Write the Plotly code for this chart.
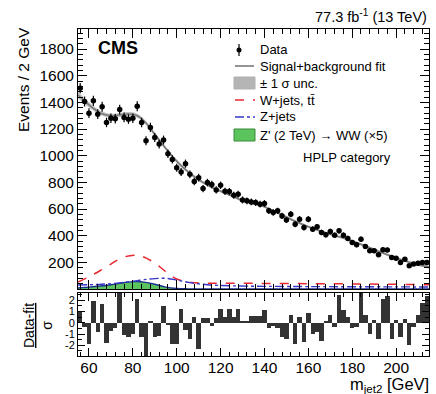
import plotly.graph_objects as go

# --- data: 2 GeV bins of the jet-2 mass ---
bin_centers = [56 + 2 * i for i in range(80)]
events = [1506, 1406, 1319, 1411, 1311, 1367, 1249, 1281, 1277, 1346,
          1287, 1274, 1281, 1371, 1249, 1112, 1212, 1137, 1087, 1117,
          1015, 972, 910, 877, 940, 860, 806, 835, 753, 798,
          783, 743, 778, 733, 731, 703, 711, 668, 661, 653,
          648, 636, 641, 586, 574, 586, 548, 518, 561, 486,
          524, 461, 524, 449, 466, 424, 406, 431, 404, 436,
          404, 379, 349, 331, 374, 319, 286, 286, 257, 294,
          292, 236, 230, 199, 224, 174, 187, 194, 199, 199]
pulls = [1.0, -0.4, -1.9, 1.9, -0.8, 1.7, -1.8, -0.7, -0.5, 2.7,
         -1.1, -1.3, -1.0, 2.1, -1.3, -3.0, 0.1, -1.3, -1.2, 1.5,
         -0.2, -1.9, -1.9, 1.2, -0.6, -1.4, 0.5, -2.3, 0.4, 0.4,
         -0.3, 0.4, 1.2, 0.5, 1.2, 0.5, 1.2, 0.2, 0.2, 0.6,
         0.6, 0.6, 1.1, -0.5, -0.3, -0.5, -1.3, -1.4, 0.7, -1.9,
         0.5, -1.7, 0.85, -1.0, -0.8, -1.6, 0.1, 0.7, -0.35, 2.5,
         1.15, 0.55, -0.5, -0.35, 2.7, 0.7, -1.0, 0.25, -1.4, 2.1,
         2.4, -1.4, 0.25, -1.3, 0.3, -2.0, -0.35, 0.7, 1.8, 2.4]

# signal+background fit and its +-1 sigma band
fit_mass = [55, 58, 62, 66, 70, 74, 78, 82, 86, 90, 94, 98, 102, 106, 110,
            114, 118, 122, 126, 130, 134, 138, 142, 146, 150, 154, 158, 162,
            166, 170, 174, 178, 182, 186, 190, 194, 198, 202, 206, 210, 215]
fit_events = [1455, 1410, 1355, 1315, 1300, 1305, 1312, 1300, 1245, 1160, 1075,
              995, 925, 868, 820, 780, 748, 720, 692, 662, 646, 630, 602, 572,
              540, 508, 480, 455, 432, 410, 392, 372, 348, 322, 296, 270, 245,
              222, 200, 183, 165]
fit_unc = [26, 22, 18, 16, 15, 15, 15, 15, 15, 14, 13, 12, 12, 11, 11,
           10, 10, 10, 10, 10, 10, 10, 9, 9, 9, 9, 9, 9,
           9, 9, 9, 9, 9, 9, 9, 9, 9, 9, 10, 11, 13]

# background components and signal template
bkg_mass = [55, 60, 65, 70, 75, 80, 82, 85, 90, 95, 100, 106, 114, 125, 140,
            160, 180, 200, 215]
wjets_tt = [52, 92, 137, 187, 235, 252, 254, 240, 195, 130, 75, 50, 44, 43, 42,
            40, 38, 35, 32]
zjets = [30, 32, 35, 40, 48, 58, 62, 70, 78, 80, 68, 48, 32, 24, 20,
         18, 17, 16, 15]
sig_mass = [55, 60, 65, 70, 75, 80, 82, 85, 90, 95, 100, 105, 110, 130, 215]
zprime = [8, 14, 22, 32, 45, 55, 56, 52, 36, 14, 4, 1, 0, 0, 0]

x_ticks = [60, 80, 100, 120, 140, 160, 180, 200]
y_ticks = [200, 400, 600, 800, 1000, 1200, 1400, 1600, 1800]
pull_ticks = [-2, -1, 0, 1, 2]
pull_labels = ["-2", "-1", "0", "1", "2"]

FONT = "Liberation Sans, Arial, Helvetica, sans-serif"
W, H = 436, 394
L, R, T, B = 78, 429, 29, 356   # plot area in pixels


def px(xp):
    return (xp - L) / (R - L)


def py(yp):
    return (B - yp) / (B - T)


fig = go.Figure()

upper = [f + u for f, u in zip(fit_events, fit_unc)]
lower = [f - u for f, u in zip(fit_events, fit_unc)]
fig.add_trace(go.Scatter(x=fit_mass, y=lower, mode="lines", line=dict(width=0, shape="spline"),
                         hoverinfo="skip", showlegend=False, xaxis="x", yaxis="y"))
fig.add_trace(go.Scatter(x=fit_mass, y=upper, mode="lines", line=dict(width=0, shape="spline"),
                         fill="tonexty", fillcolor="rgba(150,150,150,0.55)",
                         hoverinfo="skip", showlegend=False, xaxis="x", yaxis="y"))
fig.add_trace(go.Scatter(x=fit_mass, y=fit_events, mode="lines",
                         line=dict(color="#7a7a7a", width=1.6, shape="spline"),
                         showlegend=False, xaxis="x", yaxis="y"))

fig.add_trace(go.Scatter(x=sig_mass, y=zprime, mode="lines", fill="tozeroy",
                         fillcolor="#5cc45c", line=dict(color="#1c2f8f", width=1.4, shape="spline"),
                         showlegend=False, xaxis="x", yaxis="y"))
fig.add_trace(go.Scatter(x=bkg_mass, y=wjets_tt, mode="lines",
                         line=dict(color="#e8282e", width=1.5, dash="dash", shape="spline"),
                         showlegend=False, xaxis="x", yaxis="y"))
fig.add_trace(go.Scatter(x=bkg_mass, y=zjets, mode="lines",
                         line=dict(color="#3535c8", width=1.4, dash="dashdot", shape="spline"),
                         showlegend=False, xaxis="x", yaxis="y"))

errs = [n ** 0.5 for n in events]
fig.add_trace(go.Scatter(x=bin_centers, y=events, mode="markers",
                         marker=dict(color="black", size=5.5),
                         error_y=dict(type="data", array=errs, color="black", thickness=1.2, width=0),
                         showlegend=False, xaxis="x", yaxis="y"))

fig.add_trace(go.Bar(x=bin_centers, y=pulls, width=2, marker=dict(color="#333333", line=dict(width=0)),
                     showlegend=False, xaxis="x2", yaxis="y2"))

split_top = py(289)
split_bot = py(293)

axis_common = dict(showline=True, linecolor="black", linewidth=1, mirror="ticks",
                   ticks="inside", tickcolor="black", showgrid=False, zeroline=False)

fig.update_layout(
    width=W, height=H,
    margin=dict(l=L, r=W - R, t=T, b=H - B),
    paper_bgcolor="white", plot_bgcolor="white",
    font=dict(family=FONT, color="black"),
    bargap=0,
    xaxis=dict(domain=[0, 1], range=[55, 215], anchor="y", tickvals=x_ticks,
               showticklabels=False, ticklen=9,
               minor=dict(dtick=4, tick0=0, ticks="inside", ticklen=5, tickcolor="black"),
               **axis_common),
    yaxis=dict(domain=[split_top, 1], range=[0, 1950], anchor="x", tickvals=y_ticks,
               ticklen=9, tickfont=dict(size=15.5),
               minor=dict(dtick=40, tick0=0, ticks="inside", ticklen=5, tickcolor="black"),
               **axis_common),
    xaxis2=dict(domain=[0, 1], range=[55, 215], anchor="y2", matches="x", tickvals=x_ticks,
                ticklen=8, tickfont=dict(size=15.5), ticklabelstandoff=-3,
                minor=dict(dtick=4, tick0=0, ticks="inside", ticklen=4, tickcolor="black"),
                **axis_common),
    yaxis2=dict(domain=[0, split_bot], range=[-2.95, 2.65], anchor="x2",
                tickvals=pull_ticks, ticktext=pull_labels, ticklen=7,
                tickfont=dict(size=11),
                minor=dict(dtick=0.5, ticks="inside", ticklen=4, tickcolor="black"),
                **axis_common),
)

ann = []


def text(xp, yp, s, size, xanchor="left", yanchor="middle", angle=0):
    ann.append(dict(x=px(xp), y=py(yp), xref="paper", yref="paper", text=s, showarrow=False,
                    xanchor=xanchor, yanchor=yanchor, textangle=angle,
                    font=dict(size=size, family=FONT, color="black"), align="center"))


text(429, 16, "77.3 fb<sup>-1</sup> (13 TeV)", 14.5, xanchor="right")
text(96, 48, "<b>CMS</b>", 18)
text(24, 80, "Events / 2 GeV", 15.5, xanchor="center", angle=-90)
text(38, 326, "<u>Data-fit</u><br>σ", 14, xanchor="center", angle=-90)
text(431, 385, "m<sub>jet2</sub> [GeV]", 16.5, xanchor="right")

# legend entries
leg_x = 258
legend_rows = [(50, "Data"), (66, "Signal+background fit"), (83, "± 1 σ unc."),
               (100, "W+jets, tt\u0304"), (117, "Z+jets"), (135, "Z' (2 TeV) → WW (×5)")]
for yp, label in legend_rows:
    text(leg_x, yp, label, 13)
text(393, 157, "HPLP category", 13, xanchor="right")

shapes = []


def pshape(**kw):
    kw.setdefault("xref", "paper")
    kw.setdefault("yref", "paper")
    shapes.append(kw)


# Data symbol
pshape(type="line", x0=px(239), x1=px(239), y0=py(44), y1=py(56), line=dict(color="black", width=1.2))
pshape(type="circle", x0=px(236.5), x1=px(241.5), y0=py(47.5), y1=py(52.5),
       fillcolor="black", line=dict(color="black", width=0))
# fit line
pshape(type="line", x0=px(235), x1=px(254), y0=py(66), y1=py(66), line=dict(color="#7a7a7a", width=1.6))
# uncertainty box
pshape(type="rect", x0=px(234), x1=px(255), y0=py(77), y1=py(89),
       fillcolor="rgba(150,150,150,0.7)", line=dict(color="#b0b0b0", width=1))
# W+jets
pshape(type="line", x0=px(235), x1=px(255), y0=py(100), y1=py(100),
       line=dict(color="#e8282e", width=1.5, dash="dash"))
# Z+jets
pshape(type="line", x0=px(235), x1=px(255), y0=py(117), y1=py(117),
       line=dict(color="#3535c8", width=1.4, dash="dashdot"))
# signal
pshape(type="rect", x0=px(234), x1=px(255), y0=py(129), y1=py(141),
       fillcolor="#5cc45c", line=dict(color="#3a8a3a", width=1))

fig.update_layout(annotations=ann, shapes=shapes)

fig.write_html("out.html")
